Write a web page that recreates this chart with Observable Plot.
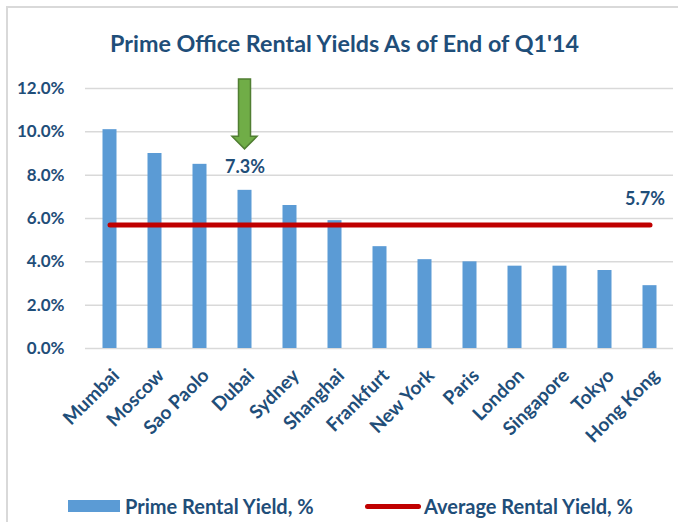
<!DOCTYPE html>
<html><head><meta charset="utf-8">
<script src="https://cdn.jsdelivr.net/npm/d3@7"></script>
<script src="https://cdn.jsdelivr.net/npm/@observablehq/plot@0.6"></script>
<style>
body{margin:0;background:#fff;}
#wrap{position:relative;width:678px;height:522px;overflow:hidden;font-family:Lato,sans-serif;color:#1f4e79;background:#fff;}
#frame{position:absolute;left:6px;top:6px;width:700px;height:600px;border-left:2px solid #d9d9d9;border-top:2px solid #d9d9d9;}
#title{position:absolute;top:29px;left:6px;width:677px;text-align:center;font-weight:700;font-size:23.3px;line-height:28px;}
#chart{position:absolute;top:70px;left:0;}
#legend{position:absolute;top:493px;left:0;width:678px;height:26px;font-weight:700;font-size:20px;line-height:26px;}
.sw{position:absolute;}
.lt{position:absolute;top:0;white-space:nowrap;}
</style></head>
<body><div id="wrap"><div id="frame"></div>
<div id="title"></div>
<div id="chart"></div>
<div id="legend"></div>
</div>
<script>
const title = "Prime Office Rental Yields As of End of Q1'14";
const cities = ["Mumbai","Moscow","Sao Paolo","Dubai","Sydney","Shanghai","Frankfurt","New York","Paris","London","Singapore","Tokyo","Hong Kong"];
const yields = [10.1, 9.0, 8.5, 7.3, 6.6, 5.9, 4.7, 4.1, 4.0, 3.8, 3.8, 3.6, 2.9];
const average = 5.7;
const yTicks = [0, 2, 4, 6, 8, 10, 12];
const highlight = "Dubai";
const seriesNames = ["Prime Rental Yield, %", "Average Rental Yield, %"];

const blue = "#5b9bd5", red = "#c00000", textColor = "#1f4e79";
const data = cities.map((c, i) => ({city: c, value: yields[i]}));
const avgData = [{city: cities[0], value: average}, {city: cities[cities.length - 1], value: average}];
const hl = data.filter(d => d.city === highlight);
const fmt = d => d.toFixed(1) + "%";

document.getElementById("title").textContent = title;

function arrowMark(index, scales) {
  const d = hl[0];
  const xs = scales.x;
  const bw = typeof xs.bandwidth === "function" ? xs.bandwidth() : (xs.bandwidth || 0);
  const cx = xs(d.city) + bw / 2;
  const top = scales.y(12) - 9;
  const tip = scales.y(d.value) - 41;
  const headBase = tip - 12.5;
  const sw = 6, hw = 12.5;
  const p = d3.path();
  p.moveTo(cx - sw, top); p.lineTo(cx + sw, top); p.lineTo(cx + sw, headBase);
  p.lineTo(cx + hw, headBase); p.lineTo(cx, tip); p.lineTo(cx - hw, headBase);
  p.lineTo(cx - sw, headBase); p.closePath();
  const g = d3.create("svg:path").attr("d", p.toString()).attr("fill", "#70ad47")
    .attr("stroke", "#507e32").attr("stroke-width", 1.5);
  return g.node();
}

const chart = Plot.plot({
  width: 678, height: 380,
  marginTop: 18, marginBottom: 102, marginLeft: 85, marginRight: 5,
  x: {domain: cities, padding: 0, label: null},
  y: {domain: [0, 12], label: null},
  style: {fontFamily: "Lato, sans-serif", color: textColor, background: "transparent", overflow: "visible"},
  marks: [
    Plot.ruleY(yTicks, {stroke: "#d9d9d9", strokeWidth: 1.5}),
    Plot.axisY({ticks: yTicks, tickSize: 0, tickPadding: 21, fontSize: 17, fontWeight: 700, tickFormat: fmt, label: null}),
    Plot.axisX({tickSize: 0, tickRotate: -45, tickPadding: 24, dx: 6, fontSize: 19, fontWeight: 700, label: null}),
    Plot.barY(data, {x: "city", y: "value", fill: blue, insetLeft: 15.5, insetRight: 15.5}),
    Plot.line(avgData, {x: "city", y: "value", stroke: red, strokeWidth: 5, strokeLinecap: "round"}),
    Plot.text(hl, {x: "city", y: "value", text: d => fmt(d.value), dy: -23, fontSize: 18, fontWeight: 700, fill: textColor}),
    Plot.text([avgData[1]], {x: "city", y: "value", text: d => fmt(d.value), dy: -26, dx: 15, textAnchor: "end", fontSize: 18, fontWeight: 700, fill: textColor}),
    arrowMark
  ]
});
document.getElementById("chart").appendChild(chart);

const legend = document.getElementById("legend");
legend.innerHTML =
  `<div class="sw" style="left:68px;top:7px;width:52px;height:12px;background:${blue}"></div>` +
  `<div class="lt" style="left:125px">${seriesNames[0]}</div>` +
  `<div class="sw" style="left:365px;top:10.5px;width:56px;height:5px;border-radius:3px;background:${red}"></div>` +
  `<div class="lt" style="left:424px">${seriesNames[1]}</div>`;
</script>
</body></html>
